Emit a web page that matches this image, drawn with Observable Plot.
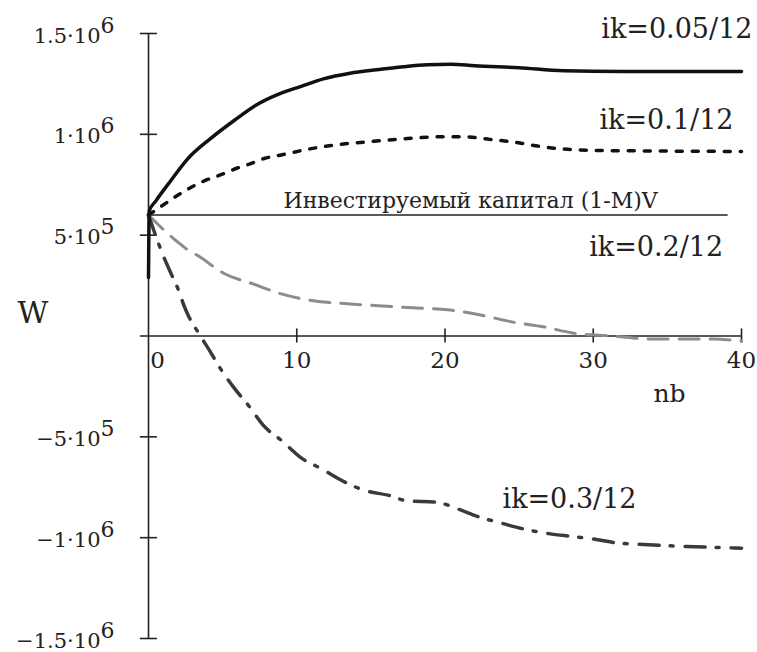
<!DOCTYPE html>
<html><head><meta charset="utf-8">
<script src="https://cdn.jsdelivr.net/npm/d3@7"></script>
<script src="https://cdn.jsdelivr.net/npm/@observablehq/plot@0.6"></script>
<style>body{margin:0;background:#fff}</style>
</head><body><div id="chart"></div>
<script>
// Series labels
const seriesNames = ["ik=0.05/12", "ik=0.1/12", "ik=0.2/12", "ik=0.3/12"];
const capitalLabel = "Инвестируемый капитал (1-M)V";
const xLabel = "nb";
const yLabel = "W";

// ik = 0.05/12 (solid)
const nb05 = [0, 0.05, 0.5, 1.5, 2.6, 4.2, 5.8, 7.3, 8.7, 10.3, 11.8, 13.6, 15.4, 17.2, 18.8, 20.4, 22, 25, 28, 32, 36, 40];
const w05 = [2.9e5, 6.2e5, 6.7e5, 7.7e5, 8.75e5, 9.8e5, 1.07e6, 1.147e6, 1.197e6, 1.238e6, 1.275e6, 1.303e6, 1.32e6, 1.335e6, 1.345e6, 1.348e6, 1.34e6, 1.33e6, 1.315e6, 1.312e6, 1.312e6, 1.312e6];
// ik = 0.1/12 (dotted)
const nb10 = [0, 1, 1.7, 2.6, 3.7, 4.9, 6, 6.9, 7.8, 9.1, 10.9, 12.7, 15.4, 17.2, 19.9, 21.5, 23, 24.6, 26, 27.5, 30.5, 35, 40];
const w10 = [6.0e5, 6.5e5, 6.85e5, 7.26e5, 7.67e5, 8.0e5, 8.33e5, 8.55e5, 8.8e5, 9.0e5, 9.28e5, 9.48e5, 9.67e5, 9.78e5, 9.88e5, 9.87e5, 9.75e5, 9.62e5, 9.45e5, 9.3e5, 9.2e5, 9.17e5, 9.15e5];
// ik = 0.2/12 (grey dashed)
const nb20 = [0, 0.9, 1.9, 2.6, 3.3, 5.1, 7.1, 8.9, 11.1, 13.4, 15.5, 17.8, 20.2, 22.4, 24.5, 26.7, 28.6, 31.3, 34, 38, 40];
const w20 = [6.0e5, 5.35e5, 4.7e5, 4.3e5, 4.0e5, 3.1e5, 2.57e5, 2.1e5, 1.75e5, 1.6e5, 1.5e5, 1.4e5, 1.3e5, 1.04e5, 7.0e4, 4.5e4, 1.5e4, 0, -1.5e4, -1.5e4, -2.5e4];
// ik = 0.3/12 (dash-dot)
const nb30 = [0, 0.7, 1.15, 1.6, 2.05, 2.4, 3.5, 4.07, 4.74, 5.76, 6.77, 7.78, 9.0, 10.25, 11.7, 13.07, 14.5, 16.3, 17.4, 19.5, 20.8, 22.4, 23.7, 25.2, 27, 28.7, 30.3, 31.5, 33.7, 35, 36.9, 39, 40];
const w30 = [6.0e5, 4.54e5, 3.71e5, 2.97e5, 2.23e5, 1.49e5, 0, -6.6e4, -1.49e5, -2.56e5, -3.47e5, -4.46e5, -5.2e5, -6.02e5, -6.6e5, -7.18e5, -7.64e5, -7.92e5, -8.17e5, -8.25e5, -8.56e5, -9.0e5, -9.26e5, -9.55e5, -9.8e5, -9.95e5, -1.01e6, -1.025e6, -1.035e6, -1.04e6, -1.045e6, -1.05e6, -1.052e6];
// invested capital line
const capitalW = 6.0e5;
const capitalNb = [0, 39.1];

// ticks
const xTicks = [0, 10, 20, 30, 40];
const xTickLabels = ["0", "10", "20", "30", "40"];
const yTicks = [1.5e6, 1e6, 5e5, -5e5, -1e6, -1.5e6];
const yTickMantissa = ["1.5·10", "1·10", "5·10", "−5·10", "−1·10", "−1.5·10"];
const yTickExp = ["6", "6", "5", "5", "6", "6"];

const toRows = (xs, ys) => xs.map((x, i) => ({nb: x, W: ys[i]}));
const s05 = toRows(nb05, w05), s10 = toRows(nb10, w10), s20 = toRows(nb20, w20), s30 = toRows(nb30, w30);
const last = s => s[s.length - 1];

const yT = yTicks.map((v, i) => ({v, m: yTickMantissa[i], e: yTickExp[i]}));
const xT = xTicks.map((v, i) => ({v, t: xTickLabels[i]}));
const font = "DejaVu Serif";

const chart = Plot.plot({
  width: 757, height: 652,
  marginLeft: 148, marginRight: 16, marginTop: 33, marginBottom: 14,
  x: {domain: [0, 40], axis: null},
  y: {domain: [-1.5e6, 1.5e6], axis: null},
  style: {background: "white", fontFamily: font},
  marks: [
    // axes
    Plot.ruleX([0], {y1: d3.min(yTicks), y2: d3.max(yTicks), stroke: "#222", strokeWidth: 1.6}),
    Plot.ruleY([0], {x1: -0.55, x2: d3.max(xTicks), stroke: "#222", strokeWidth: 1.6}),
    Plot.ruleY(yTicks, {x1: -0.55, x2: 0.6, stroke: "#222", strokeWidth: 1.6}),
    Plot.ruleX(xTicks.filter(d => d !== 0), {y1: -3.5e4, y2: 3.5e4, stroke: "#222", strokeWidth: 1.6}),
    // y tick labels
    Plot.text(yT, {x: 0, y: "v", text: "m", textAnchor: "end", lineAnchor: "bottom", dx: -48, dy: 9, fontSize: 21, fill: "#222"}),
    Plot.text(yT, {x: 0, y: "v", text: "e", textAnchor: "start", lineAnchor: "bottom", dx: -48, dy: -1, fontSize: 22, fill: "#222"}),
    // x tick labels
    Plot.text(xT.filter(d => d.v === 0), {x: "v", y: 0, text: "t", textAnchor: "middle", lineAnchor: "bottom", dx: 9, dy: 32, fontSize: 23, fill: "#222"}),
    Plot.text(xT.filter(d => d.v !== 0), {x: "v", y: 0, text: "t", textAnchor: "middle", lineAnchor: "bottom", dx: 0, dy: 32, fontSize: 23, fill: "#222"}),
    // axis titles
    Plot.text([xLabel], {x: d3.max(xTicks), y: 0, text: d => d, textAnchor: "middle", lineAnchor: "bottom", dx: -72, dy: 66, fontSize: 25, fill: "#222"}),
    Plot.text([yLabel], {x: 0, y: 0, text: d => d, textAnchor: "start", lineAnchor: "bottom", dx: -131, dy: -13, fontSize: 30, fill: "#222"}),
    // invested capital
    Plot.ruleY([capitalW], {x1: capitalNb[0], x2: capitalNb[1], stroke: "#222", strokeWidth: 1.6}),
    Plot.text([capitalLabel], {x: capitalNb[0], y: capitalW, text: d => d, textAnchor: "start", lineAnchor: "bottom", dx: 135, dy: -7, fontSize: 22, fill: "#222"}),
    // curves
    Plot.line(s20, {x: "nb", y: "W", stroke: "#8c8c8c", strokeWidth: 3, strokeDasharray: "20,11", curve: "monotone-x"}),
    Plot.line(s30, {x: "nb", y: "W", stroke: "#3a3a3a", strokeWidth: 3.5, strokeDasharray: "20,11,3,12", curve: "monotone-x"}),
    Plot.line(s10, {x: "nb", y: "W", stroke: "#111", strokeWidth: 3.5, strokeDasharray: "6,10", curve: "monotone-x"}),
    Plot.line(s05, {x: "nb", y: "W", stroke: "#111", strokeWidth: 3.5, curve: "monotone-x"}),
    // series labels
    Plot.text([last(s05)], {x: "nb", y: "W", text: () => seriesNames[0], textAnchor: "end", lineAnchor: "bottom", dx: 11, dy: -33, fontSize: 27, fill: "#222"}),
    Plot.text([last(s10)], {x: "nb", y: "W", text: () => seriesNames[1], textAnchor: "end", lineAnchor: "bottom", dx: -8, dy: -22, fontSize: 27, fill: "#222"}),
    Plot.text([{nb: capitalNb[1], W: capitalW}], {x: "nb", y: "W", text: () => seriesNames[2], textAnchor: "end", lineAnchor: "bottom", dx: -5, dy: 41, fontSize: 27, fill: "#222"}),
    Plot.text([last(s30)], {x: "nb", y: "W", text: () => seriesNames[3], textAnchor: "start", lineAnchor: "bottom", dx: -239, dy: -40, fontSize: 27, fill: "#222"})
  ]
});
document.getElementById("chart").appendChild(chart);
</script>
</body></html>
